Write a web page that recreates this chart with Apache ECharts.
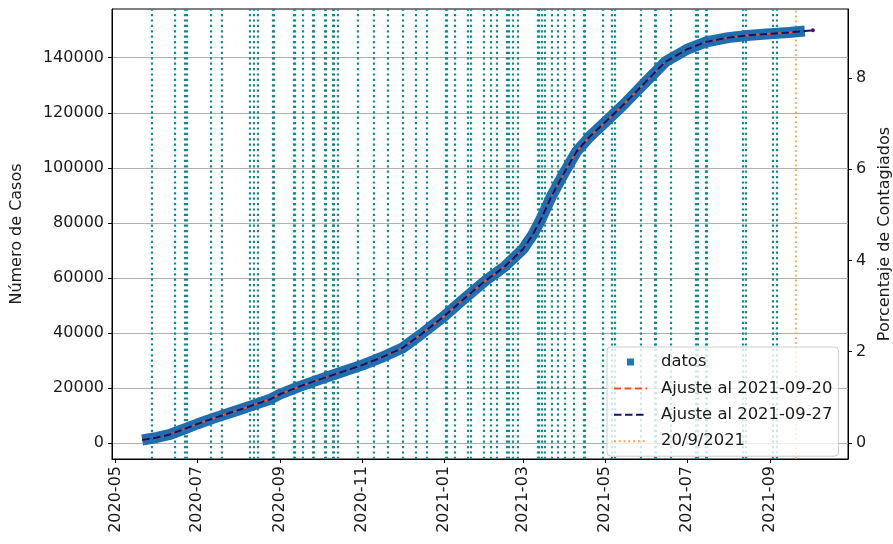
<!DOCTYPE html>
<html><head><meta charset="utf-8">
<script src="https://cdn.jsdelivr.net/npm/echarts@6/dist/echarts.min.js"></script>
<style>html,body{margin:0;padding:0;background:#fff}#c{width:893px;height:544px}</style>
</head><body><div id="c"></div>
<script>
// ---- data ----
const xTickLabels = ['2020-05','2020-07','2020-09','2020-11','2021-01','2021-03','2021-05','2021-07','2021-09'];
const yTicksCases = [0,20000,40000,60000,80000,100000,120000,140000];
const yTicksPct = [0,2,4,6,8];

const dataDates = ['2020-05-21','2020-06-01','2020-06-10','2020-06-20','2020-07-01','2020-07-15','2020-08-01','2020-08-15','2020-08-25','2020-09-01','2020-09-15','2020-10-01','2020-10-15','2020-11-01','2020-11-15','2020-12-01','2020-12-15','2021-01-01','2021-01-15','2021-02-01','2021-02-15','2021-03-01','2021-03-08','2021-03-15','2021-03-22','2021-04-01','2021-04-10','2021-04-20','2021-05-01','2021-05-15','2021-06-01','2021-06-15','2021-07-01','2021-07-15','2021-08-01','2021-08-15','2021-09-01','2021-09-15','2021-09-27'];
const dataCases = [1100,2000,3000,4800,6900,9300,12000,14300,16000,17800,20500,23200,25500,28300,31000,34500,39500,46000,52000,59000,64000,70500,75500,82000,89500,98500,106000,111500,116500,123000,131500,138500,143000,145700,147300,148100,148700,149200,149700];

const fit20Dates = ['2020-05-21','2020-06-01','2020-06-10','2020-06-20','2020-07-01','2020-07-15','2020-08-01','2020-08-15','2020-08-25','2020-09-01','2020-09-15','2020-10-01','2020-10-15','2020-11-01','2020-11-15','2020-12-01','2020-12-15','2021-01-01','2021-01-15','2021-02-01','2021-02-15','2021-03-01','2021-03-08','2021-03-15','2021-03-22','2021-04-01','2021-04-10','2021-04-20','2021-05-01','2021-05-15','2021-06-01','2021-06-15','2021-07-01','2021-07-15','2021-08-01','2021-08-15','2021-09-01','2021-09-20'];
const fit20Cases = [1100,2000,3000,4800,6900,9300,12000,14300,16000,17800,20500,23200,25500,28300,31000,34500,39500,46000,52000,59000,64000,70500,75500,82000,89500,98500,106000,111500,116500,123000,131500,138500,143000,145700,147300,148100,148700,149400];

const fit27Dates = ['2020-05-21','2020-06-01','2020-06-10','2020-06-20','2020-07-01','2020-07-15','2020-08-01','2020-08-15','2020-08-25','2020-09-01','2020-09-15','2020-10-01','2020-10-15','2020-11-01','2020-11-15','2020-12-01','2020-12-15','2021-01-01','2021-01-15','2021-02-01','2021-02-15','2021-03-01','2021-03-08','2021-03-15','2021-03-22','2021-04-01','2021-04-10','2021-04-20','2021-05-01','2021-05-15','2021-06-01','2021-06-15','2021-07-01','2021-07-15','2021-08-01','2021-08-15','2021-09-01','2021-09-15','2021-09-27','2021-10-03'];
const fit27Cases = [1100,2000,3000,4800,6900,9300,12000,14300,16000,17800,20500,23200,25500,28300,31000,34500,39500,46000,52000,59000,64000,70500,75500,82000,89500,98500,106000,111500,116500,123000,131500,138500,143000,145700,147300,148100,148700,149200,149700,149950];

const markerDates = ['2020-05-28','2020-06-14','2020-06-22','2020-06-23','2020-07-11','2020-07-19','2020-08-09','2020-08-12','2020-08-15','2020-08-26','2020-08-27','2020-09-11','2020-09-12','2020-09-18','2020-09-25','2020-09-26','2020-10-04','2020-10-05','2020-10-10','2020-10-11','2020-10-14','2020-10-29','2020-11-10','2020-11-20','2020-12-01','2020-12-11','2020-12-19','2021-01-02','2021-01-03','2021-01-09','2021-01-19','2021-01-21','2021-01-31','2021-02-05','2021-02-09','2021-02-17','2021-02-18','2021-02-21','2021-02-25','2021-03-12','2021-03-13','2021-03-15','2021-03-17','2021-03-22','2021-03-27','2021-04-01','2021-04-08','2021-04-15','2021-04-16','2021-04-29','2021-05-06','2021-05-08','2021-05-28','2021-06-07','2021-06-08','2021-06-19','2021-07-08','2021-07-09','2021-07-15','2021-07-16','2021-08-12','2021-08-14','2021-09-03','2021-09-06'];
const cutoffDate = '2021-09-20';

const casesMin = -5818, casesMax = 157700;
const pctMin = -0.3507, pctMax = 9.506;
const xMinDate = '2020-04-28T12:00:00Z', xMaxDate = '2021-10-29T05:00:00Z';

// ---- build ----
const ts = d => Date.parse(d.length === 7 ? d + '-01' : d);
const pairs = (ds, vs) => ds.map((d, i) => [ts(d), vs[i]]);
const xTickValues = xTickLabels.map(ts);
const FONT = 'DejaVu Sans';
const FS = 16;
const TXT = '#1a1a1a';
const tealStyle = { color: '#138a87', width: 2.2, type: [2.2, 3.2] };
const orangeStyle = { color: '#ff9e2a', width: 1.8, type: [1.8, 3] };

const fit27Data = pairs(fit27Dates, fit27Cases);
fit27Data[fit27Data.length - 1] = { value: fit27Data[fit27Data.length - 1], symbol: 'circle', symbolSize: 4, itemStyle: { color: '#4a1466' } };

const chart = echarts.init(document.getElementById('c'), null, { renderer: 'canvas' });
chart.setOption({
  animation: false,
  backgroundColor: '#fff',
  textStyle: { fontFamily: FONT },
  grid: { left: 112, right: 45, top: 9, bottom: 85, show: true, borderColor: '#000', borderWidth: 1, backgroundColor: 'transparent', outerBoundsMode: 'none', containLabel: false },
  legend: {
    left: 607, top: 347, orient: 'vertical', selectedMode: false,
    itemWidth: 33, itemHeight: 14, itemGap: 10.4,
    padding: [7, 6, 7, 6],
    backgroundColor: 'rgba(255,255,255,0.8)', borderColor: '#cccccc', borderWidth: 1, borderRadius: 4,
    textStyle: { fontSize: 16.4, color: TXT, fontFamily: FONT, padding: [0, 0, 0, 9] },
    itemStyle: { opacity: 0 },
    data: [
      { name: 'datos', icon: 'path://M0,0M14,14M3.5,3.5h7v7h-7z', itemStyle: { opacity: 1, color: '#1f77b4' } },
      { name: 'Ajuste al 2021-09-20' },
      { name: 'Ajuste al 2021-09-27' },
      { name: '20/9/2021' }
    ]
  },
  xAxis: {
    type: 'value', min: Date.parse(xMinDate), max: Date.parse(xMaxDate),
    axisLine: { show: true, onZero: false, lineStyle: { color: '#000', width: 1 } },
    axisTick: { show: true, length: 4, lineStyle: { color: '#000' }, customValues: xTickValues },
    axisLabel: { customValues: xTickValues, rotate: 90, margin: 7, fontSize: FS, color: TXT, fontFamily: FONT,
      formatter: v => { const i = xTickValues.indexOf(v); return i >= 0 ? xTickLabels[i] : ''; } },
    splitLine: { show: false }
  },
  yAxis: [
    {
      type: 'value', min: casesMin, max: casesMax, position: 'left',
      name: 'Número de Casos', nameLocation: 'middle', nameRotate: 90, nameGap: 87,
      nameTextStyle: { fontSize: FS, color: TXT, fontFamily: FONT },
      axisLine: { show: true, onZero: false, lineStyle: { color: '#000', width: 1 } },
      axisTick: { show: true, length: 4, lineStyle: { color: '#000' }, customValues: yTicksCases },
      axisLabel: { customValues: yTicksCases, margin: 8, fontSize: FS, color: TXT, fontFamily: FONT, formatter: v => String(v) },
      splitLine: { show: true, lineStyle: { color: '#b0b0b0', width: 1 } }
    },
    {
      type: 'value', min: pctMin, max: pctMax, position: 'right',
      name: 'Porcentaje de Contagiados', nameLocation: 'middle', nameRotate: 90, nameGap: 26,
      nameTextStyle: { fontSize: FS, color: TXT, fontFamily: FONT },
      axisLine: { show: true, onZero: false, lineStyle: { color: '#000', width: 1 } },
      axisTick: { show: true, length: 4, lineStyle: { color: '#000' }, customValues: yTicksPct },
      axisLabel: { customValues: yTicksPct, margin: 8, fontSize: FS, color: TXT, fontFamily: FONT, formatter: v => String(v) },
      splitLine: { show: false }
    }
  ],
  series: [
    {
      name: 'marcas', type: 'line', data: [], z: 1, silent: true,
      markLine: { silent: true, z: 1, symbol: ['none', 'none'], animation: false, label: { show: false },
        lineStyle: tealStyle, emphasis: { disabled: true },
        data: markerDates.map(d => ({ xAxis: ts(d) })) }
    },
    {
      name: '20/9/2021', type: 'line', data: [], z: 1, silent: true,
      lineStyle: orangeStyle, itemStyle: { color: orangeStyle.color },
      markLine: { silent: true, z: 1, symbol: ['none', 'none'], animation: false, label: { show: false },
        lineStyle: orangeStyle, emphasis: { disabled: true },
        data: [{ xAxis: ts(cutoffDate) }] }
    },
    {
      name: 'datos', type: 'line', data: pairs(dataDates, dataCases), z: 3, silent: true,
      showSymbol: false, symbol: 'rect', itemStyle: { color: '#1f77b4' },
      lineStyle: { color: '#1f6fb0', width: 11, join: 'round' }
    },
    {
      name: 'Ajuste al 2021-09-20', type: 'line', data: pairs(fit20Dates, fit20Cases), z: 4, silent: true,
      showSymbol: false, symbol: 'none', itemStyle: { color: '#f4511e' },
      lineStyle: { color: '#f4511e', width: 2, type: [7, 3.5] }
    },
    {
      name: 'Ajuste al 2021-09-27', type: 'line', data: fit27Data, z: 5, silent: true,
      showSymbol: true, symbol: 'none', itemStyle: { color: '#12126e' },
      lineStyle: { color: '#12126e', width: 2, type: [7.5, 3.5] }
    }
  ]
});
</script></body></html>
